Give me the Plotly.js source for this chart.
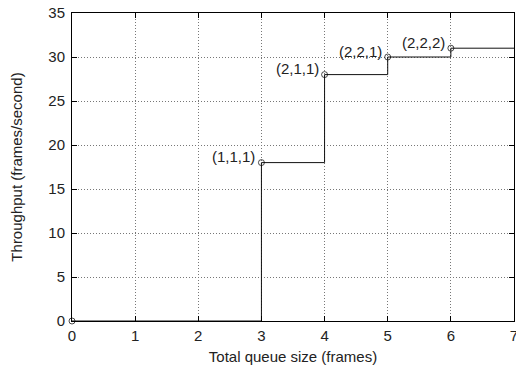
<!DOCTYPE html>
<html><head><meta charset="utf-8">
<script src="https://cdn.plot.ly/plotly-3.0.1.min.js"></script>
<style>html,body{margin:0;padding:0;background:#fff}#chart{width:516px;height:365px}</style>
</head><body><div id="chart"></div>
<script>
var queueSize = [0, 3, 4, 5, 6, 7];
var throughput = [0, 18, 28, 30, 31, 31];
var configLabels = ["", "(1,1,1)", "(2,1,1)", "(2,2,1)", "(2,2,2)", ""];
var markerShown = [true, true, true, true, true, false];
var xTicks = [0, 1, 2, 3, 4, 5, 6, 7];
var yTicks = [0, 5, 10, 15, 20, 25, 30, 35];

var FONT = 'Liberation Sans, Arial, Helvetica, sans-serif';

var trace = {
  x: queueSize, y: throughput, type: 'scatter', mode: 'lines+markers',
  line: {shape: 'hv', color: '#111', width: 1},
  marker: {symbol: 'circle-open', color: '#000', size: markerShown.map(function(m){return m ? 6 : 0;}), line: {width: 1}},
  hoverinfo: 'none', cliponaxis: false
};

var annotations = [];
for (var i = 0; i < queueSize.length; i++) {
  if (!configLabels[i]) continue;
  annotations.push({x: queueSize[i], y: throughput[i], text: configLabels[i], showarrow: false,
    xanchor: 'right', yanchor: 'middle', xshift: -4, yshift: 6,
    font: {family: FONT, size: 15, color: '#222'}});
}

var axisCommon = {
  showline: true, linecolor: '#000', linewidth: 1, mirror: 'allticks',
  ticks: 'inside', ticklen: 5, tickcolor: '#000', tickwidth: 1,
  showgrid: true, gridcolor: '#777', griddash: '1px,2px', gridwidth: 1,
  zeroline: false, ticklabeloverflow: 'allow',
  tickfont: {family: FONT, size: 15, color: '#222'}
};

var layout = {
  width: 516, height: 365,
  margin: {l: 72, r: 2, t: 13, b: 44},
  paper_bgcolor: '#fff', plot_bgcolor: '#fff', showlegend: false,
  xaxis: Object.assign({}, axisCommon, {range: [0, 7], tickmode: 'array', tickvals: xTicks,
    ticklabelstandoff: 1,
    title: {text: 'Total queue size (frames)', standoff: 8, font: {family: FONT, size: 15, color: '#222'}}}),
  yaxis: Object.assign({}, axisCommon, {range: [0, 35], tickmode: 'array', tickvals: yTicks,
    ticklabelstandoff: 3,
    title: {text: 'Throughput (frames/second)', standoff: 22, font: {family: FONT, size: 15, color: '#222'}}}),
  annotations: annotations
};

Plotly.newPlot('chart', [trace], layout, {displayModeBar: false, staticPlot: true});
</script></body></html>
